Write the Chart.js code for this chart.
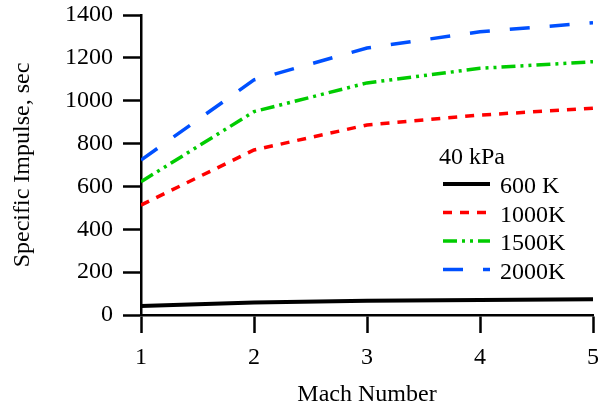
<!DOCTYPE html>
<html lang="en">
<head>
    <meta charset="UTF-8">
    <title>Specific Impulse vs Mach Number</title>
    <script src="https://cdn.jsdelivr.net/npm/chart.js"></script>
    <style>
        html, body {
            margin: 0;
            padding: 0;
            background: #fff;
        }
        #wrap {
            width: 598px;
            height: 412px;
        }
    </style>
</head>
<body>
    <div id="wrap"><canvas id="impulseChart" width="598" height="412"></canvas></div>

    <script>
        // values
        const machNumbers = [1, 2, 3, 4, 5];
        const isp600K = [42, 58, 66, 70, 73];
        const isp1000K = [513, 770, 887, 933, 965];
        const isp1500K = [622, 949, 1083, 1151, 1182];
        const isp2000K = [723, 1097, 1246, 1322, 1364];
        const seriesLabels = ["600 K", "1000K", "1500K", "2000K"];
        const legendTitle = "40 kPa";

        const FONT = "'Liberation Serif', 'Times New Roman', serif";

        function toPoints(values) {
            return values.map((v, i) => ({ x: machNumbers[i], y: v }));
        }

        // legend drawn inside the plot, like the original figure
        const insideLegend = {
            id: "insideLegend",
            afterDraw(chart) {
                const ctx = chart.ctx;
                const x0 = 443, lineLen = 47, textX = 500;
                ctx.save();
                ctx.font = "24px " + FONT;
                ctx.fillStyle = "#000";
                ctx.textBaseline = "alphabetic";
                ctx.fillText(legendTitle, 439, 164);
                chart.data.datasets.forEach((ds, i) => {
                    const y = 184 + i * 28.5;
                    ctx.beginPath();
                    ctx.setLineDash(ds.borderDash || []);
                    ctx.lineWidth = ds.borderWidth;
                    ctx.strokeStyle = ds.borderColor;
                    ctx.moveTo(x0, y);
                    ctx.lineTo(x0 + lineLen, y);
                    ctx.stroke();
                    ctx.setLineDash([]);
                    ctx.fillText(ds.label, textX, y + 9);
                });
                ctx.restore();
            }
        };

        const axisFont = { family: FONT, size: 24 };

        new Chart(document.getElementById("impulseChart"), {
            type: "line",
            data: {
                datasets: [
                    { label: seriesLabels[0], data: toPoints(isp600K), borderColor: "#000000", borderWidth: 4, borderDash: [] },
                    { label: seriesLabels[1], data: toPoints(isp1000K), borderColor: "#ff0000", borderWidth: 3.5, borderDash: [9, 8] },
                    { label: seriesLabels[2], data: toPoints(isp1500K), borderColor: "#00cc00", borderWidth: 3.5, borderDash: [14, 5, 3, 5, 3, 5] },
                    { label: seriesLabels[3], data: toPoints(isp2000K), borderColor: "#0050ff", borderWidth: 3.5, borderDash: [20, 20] }
                ]
            },
            options: {
                responsive: false,
                animation: false,
                events: [],
                elements: {
                    point: { radius: 0 },
                    line: { tension: 0, borderCapStyle: "butt", fill: false }
                },
                layout: { padding: { top: 15, right: 5, left: 0, bottom: 0 } },
                plugins: {
                    legend: { display: false },
                    tooltip: { enabled: false }
                },
                scales: {
                    x: {
                        type: "linear",
                        min: 1,
                        max: 5,
                        afterFit(scale) {
                            scale.height = 97;
                            scale.paddingLeft = 0;
                            scale.paddingRight = 0;
                        },
                        border: { display: true, color: "#000", width: 2.5 },
                        grid: { drawOnChartArea: false, drawTicks: true, tickLength: 18, tickColor: "#000", tickWidth: 2.5 },
                        ticks: { stepSize: 1, color: "#000", font: axisFont, padding: 10, maxRotation: 0 },
                        title: { display: true, text: "Mach Number", color: "#000", font: axisFont, padding: { top: 0, bottom: 3 } }
                    },
                    y: {
                        min: 0,
                        max: 1400,
                        afterFit(scale) {
                            scale.width = 141;
                            scale.paddingTop = 0;
                            scale.paddingBottom = 0;
                        },
                        border: { display: true, color: "#000", width: 2.5 },
                        grid: { drawOnChartArea: false, drawTicks: true, tickLength: 18, tickColor: "#000", tickWidth: 2.5 },
                        ticks: { stepSize: 200, color: "#000", font: axisFont, padding: 10, callback: (v) => String(v) },
                        title: { display: true, text: "Specific Impulse, sec", color: "#000", font: axisFont, padding: { top: 8, bottom: 0 } }
                    }
                }
            },
            plugins: [insideLegend]
        });
    </script>
</body>
</html>
